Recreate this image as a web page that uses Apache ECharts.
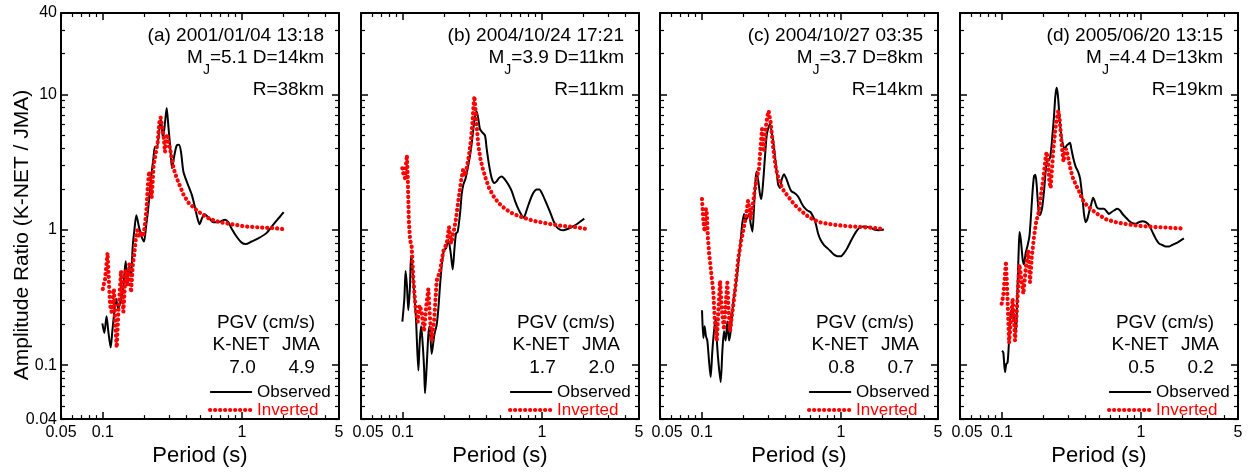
<!DOCTYPE html>
<html>
<head>
<meta charset="utf-8">
<title>Amplitude Ratio (K-NET / JMA)</title>
<script src="https://cdn.jsdelivr.net/npm/echarts@6.0.0/dist/echarts.min.js"></script>
<style>
  html, body { margin: 0; padding: 0; background: #fff; }
  #chart { width: 1249px; height: 472px; }
</style>
</head>
<body>
<div id="chart"></div>
<script>
// panel annotations
const panelTitles = ['(a) 2001/01/04 13:18', '(b) 2004/10/24 17:21', '(c) 2004/10/27 03:35', '(d) 2005/06/20 13:15'];
const magnitudes = ['5.1', '3.9', '3.7', '4.4'];
const depths = ['14', '11', '8', '13'];
const distances = ['38', '11', '14', '19'];
const pgvKnet = ['7.0', '1.7', '0.8', '0.5'];
const pgvJma = ['4.9', '2.0', '0.7', '0.2'];

// axis ranges (log scale), tick labels come out as 0.05 0.1 1 5 and 0.04 0.1 1 10 40
const periodRange = [0.05, 5];
const ratioRange = [0.04, 40];

// [period (s), amplitude ratio]
const obsA = [[0.0992,0.204],[0.1025,0.173],[0.1063,0.23],[0.1095,0.178],[0.1138,0.135],[0.117,0.178],[0.1209,0.248],[0.1243,0.31],[0.1293,0.262],[0.1352,0.31],[0.1405,0.387],[0.146,0.587],[0.150,0.432],[0.155,0.54],[0.1595,0.457],[0.164,0.753],[0.1685,0.99],[0.1742,1.28],[0.182,1.05],[0.190,0.89],[0.1977,0.82],[0.2045,1.05],[0.2125,1.47],[0.221,2.28],[0.231,3.37],[0.237,4.1],[0.2453,4.1],[0.2536,5.26],[0.262,6.56],[0.271,4.7],[0.280,6.2],[0.288,7.95],[0.296,5.87],[0.306,3.98],[0.3145,2.85],[0.327,3.56],[0.340,4.2],[0.353,4.25],[0.365,3.77],[0.3795,2.7],[0.401,2.28],[0.4356,1.83],[0.460,1.47],[0.4775,1.24],[0.497,1.1],[0.514,1.2],[0.538,1.31],[0.574,1.24],[0.624,1.14],[0.677,1.14],[0.757,1.19],[0.799,1.14],[0.845,1.02],[0.918,0.89],[0.997,0.805],[1.065,0.785],[1.175,0.82],[1.312,0.865],[1.51,0.95],[1.69,1.1],[1.88,1.25],[2.0,1.35]];
const invA = [[0.0999,0.366],[0.1036,0.432],[0.107,0.603],[0.1081,0.674],[0.1104,0.432],[0.1128,0.277],[0.1157,0.248],[0.119,0.346],[0.1202,0.366],[0.1223,0.222],[0.1258,0.135],[0.1293,0.248],[0.1352,0.497],[0.1405,0.248],[0.146,0.51],[0.150,0.387],[0.155,0.556],[0.1595,0.346],[0.164,0.54],[0.1685,0.674],[0.1723,0.841],[0.177,0.99],[0.183,0.89],[0.190,0.97],[0.1953,0.89],[0.2011,1.11],[0.2067,1.47],[0.2102,2.04],[0.215,2.7],[0.2198,2.28],[0.2246,1.73],[0.2284,2.28],[0.232,3.02],[0.240,3.65],[0.248,4.44],[0.2549,6.2],[0.2605,6.75],[0.265,6.56],[0.2692,5.55],[0.275,4.7],[0.280,3.77],[0.2848,4.44],[0.2896,5.1],[0.296,4.44],[0.3045,3.98],[0.3128,3.37],[0.323,2.85],[0.340,2.41],[0.3593,2.1],[0.3795,1.83],[0.4122,1.59],[0.460,1.43],[0.514,1.31],[0.59,1.2],[0.697,1.14],[0.845,1.1],[1.053,1.06],[1.388,1.04],[1.732,1.03],[2.04,1.01]];

const obsB = [[0.0992,0.21],[0.1025,0.31],[0.1047,0.497],[0.107,0.387],[0.1095,0.255],[0.1126,0.387],[0.1145,0.64],[0.117,0.54],[0.1209,0.328],[0.1243,0.222],[0.1293,0.0914],[0.132,0.1425],[0.1352,0.194],[0.138,0.159],[0.1421,0.0966],[0.1444,0.062],[0.1483,0.0966],[0.1526,0.168],[0.156,0.194],[0.1612,0.121],[0.1685,0.168],[0.1752,0.199],[0.1801,0.262],[0.1851,0.387],[0.1903,0.54],[0.1977,0.712],[0.2045,0.73],[0.2125,0.841],[0.221,0.674],[0.2284,0.51],[0.2348,0.712],[0.2413,0.94],[0.248,0.966],[0.2578,1.31],[0.265,1.83],[0.2725,2.16],[0.283,2.41],[0.296,3.02],[0.3095,3.98],[0.3216,5.55],[0.3305,6.93],[0.340,7.5],[0.3493,6.56],[0.359,5.55],[0.373,5.26],[0.390,4.97],[0.401,3.98],[0.4168,3.02],[0.4356,2.41],[0.455,2.22],[0.4725,2.28],[0.4905,2.41],[0.514,2.48],[0.543,2.35],[0.574,2.16],[0.607,1.93],[0.641,1.64],[0.677,1.43],[0.716,1.28],[0.739,1.23],[0.776,1.39],[0.82,1.64],[0.869,1.88],[0.918,1.99],[0.96,1.99],[1.01,1.83],[1.085,1.55],[1.147,1.35],[1.21,1.17],[1.277,1.05],[1.349,1.005],[1.425,0.994],[1.51,1.01],[1.64,1.05],[1.78,1.1],[1.91,1.16],[2.02,1.21]];
const invB = [[0.0992,2.85],[0.1014,2.55],[0.1036,2.41],[0.1053,3.02],[0.107,3.56],[0.1087,2.28],[0.1104,1.17],[0.1128,0.841],[0.1157,0.753],[0.119,0.432],[0.1237,0.262],[0.128,0.21],[0.132,0.277],[0.1366,0.248],[0.142,0.178],[0.1475,0.277],[0.1526,0.366],[0.157,0.222],[0.1612,0.15],[0.1677,0.21],[0.1752,0.42],[0.1851,0.497],[0.1953,0.694],[0.2067,0.795],[0.215,1.05],[0.2222,0.795],[0.231,0.94],[0.240,1.17],[0.2508,1.64],[0.262,2.28],[0.271,2.77],[0.280,2.5],[0.2896,2.94],[0.2992,3.56],[0.3095,4.7],[0.318,6.56],[0.323,8.4],[0.327,9.7],[0.332,8.2],[0.340,5.87],[0.3493,4.2],[0.3612,3.37],[0.3753,2.85],[0.394,2.41],[0.4168,2.04],[0.448,1.78],[0.4856,1.59],[0.543,1.43],[0.624,1.31],[0.736,1.23],[0.893,1.16],[1.113,1.11],[1.388,1.07],[1.732,1.05],[2.04,1.02]];

const obsC = [[0.1003,0.255],[0.1025,0.159],[0.1047,0.194],[0.107,0.164],[0.1095,0.152],[0.1126,0.108],[0.1157,0.0818],[0.119,0.1275],[0.1223,0.178],[0.1258,0.222],[0.1287,0.1425],[0.132,0.102],[0.1366,0.0752],[0.1405,0.1275],[0.1444,0.178],[0.1483,0.152],[0.1526,0.21],[0.157,0.152],[0.1612,0.178],[0.1658,0.248],[0.1704,0.328],[0.1752,0.387],[0.1801,0.483],[0.1851,0.638],[0.1903,0.841],[0.1953,1.11],[0.2011,1.31],[0.2067,1.17],[0.2125,1.24],[0.2185,1.31],[0.2246,1.11],[0.231,0.97],[0.2373,1.47],[0.244,2.41],[0.248,2.7],[0.2549,2.28],[0.262,1.83],[0.268,1.69],[0.2763,2.28],[0.284,3.37],[0.2927,4.97],[0.2992,5.55],[0.3095,6.05],[0.318,5.26],[0.327,4.44],[0.3352,3.56],[0.345,2.7],[0.354,2.16],[0.365,2.04],[0.3753,2.35],[0.390,2.58],[0.4077,2.35],[0.4238,2.1],[0.440,1.93],[0.460,1.88],[0.4775,1.83],[0.4985,1.73],[0.5185,1.59],[0.543,1.47],[0.574,1.39],[0.607,1.35],[0.6345,1.24],[0.66,1.11],[0.686,0.94],[0.716,0.841],[0.757,0.771],[0.7994,0.733],[0.845,0.694],[0.893,0.656],[0.944,0.638],[0.997,0.638],[1.054,0.674],[1.113,0.733],[1.175,0.82],[1.243,0.913],[1.312,0.994],[1.388,1.05],[1.465,1.06],[1.551,1.05],[1.64,1.04],[1.732,1.005],[1.88,0.994],[2.04,1.005]];
const invC = [[0.1003,1.69],[0.1025,1.17],[0.1047,0.97],[0.107,1.43],[0.1087,1.31],[0.1104,0.89],[0.1128,0.674],[0.1157,0.527],[0.119,0.527],[0.121,0.346],[0.1237,0.222],[0.128,0.151],[0.1306,0.222],[0.1352,0.42],[0.1398,0.248],[0.1444,0.183],[0.1483,0.277],[0.1526,0.408],[0.156,0.248],[0.1595,0.178],[0.1658,0.248],[0.1733,0.356],[0.183,0.62],[0.1933,0.865],[0.2011,1.05],[0.2087,1.31],[0.215,1.64],[0.2198,1.43],[0.2246,1.2],[0.231,1.47],[0.240,1.93],[0.248,2.41],[0.2578,2.85],[0.265,4.2],[0.271,5.55],[0.2778,3.77],[0.284,4.7],[0.2896,5.87],[0.296,6.93],[0.3025,7.55],[0.308,7.35],[0.3128,6.2],[0.3216,4.7],[0.3305,3.56],[0.341,2.85],[0.3532,2.48],[0.369,2.16],[0.390,1.93],[0.4238,1.73],[0.460,1.55],[0.514,1.39],[0.59,1.24],[0.697,1.14],[0.845,1.1],[1.054,1.07],[1.388,1.05],[1.732,1.035],[2.04,1.01]];

const obsD = [[0.1003,0.128],[0.1025,0.124],[0.1053,0.089],[0.1076,0.102],[0.11,0.105],[0.1126,0.151],[0.115,0.222],[0.1183,0.262],[0.1209,0.248],[0.1237,0.21],[0.1265,0.173],[0.1293,0.346],[0.132,0.674],[0.1341,0.966],[0.137,0.841],[0.1413,0.603],[0.1444,0.556],[0.1483,0.674],[0.1526,0.753],[0.1578,0.89],[0.1612,1.17],[0.1658,1.83],[0.1704,2.5],[0.1742,2.55],[0.178,2.16],[0.182,1.55],[0.1859,1.28],[0.190,1.31],[0.1953,1.47],[0.2011,1.93],[0.2067,2.7],[0.2125,3.28],[0.2185,3.28],[0.2246,3.65],[0.231,4.97],[0.2373,6.93],[0.2426,9.7],[0.248,11.2],[0.2536,9.7],[0.2605,6.56],[0.268,4.97],[0.2763,4.2],[0.284,3.98],[0.2927,4.2],[0.3025,4.32],[0.3095,4.4],[0.316,3.98],[0.327,3.37],[0.340,2.92],[0.353,2.7],[0.365,2.41],[0.373,2.04],[0.382,1.64],[0.390,1.31],[0.401,1.14],[0.4122,1.2],[0.424,1.35],[0.440,1.55],[0.4535,1.73],[0.465,1.64],[0.4825,1.47],[0.5015,1.43],[0.521,1.43],[0.543,1.43],[0.574,1.35],[0.59,1.31],[0.614,1.35],[0.641,1.39],[0.677,1.43],[0.708,1.39],[0.739,1.31],[0.776,1.24],[0.82,1.17],[0.869,1.12],[0.918,1.11],[0.97,1.14],[1.025,1.16],[1.085,1.14],[1.147,1.08],[1.21,0.966],[1.277,0.865],[1.349,0.795],[1.425,0.773],[1.51,0.753],[1.59,0.753],[1.68,0.773],[1.78,0.795],[1.88,0.82],[2.04,0.865]];
const invD = [[0.0997,0.285],[0.1025,0.328],[0.1047,0.432],[0.107,0.585],[0.1095,0.346],[0.1128,0.146],[0.1163,0.222],[0.1196,0.31],[0.1223,0.222],[0.1244,0.152],[0.128,0.248],[0.1338,0.556],[0.138,0.432],[0.1428,0.337],[0.1491,0.54],[0.155,0.694],[0.1595,0.41],[0.164,0.62],[0.1704,0.89],[0.1772,1.17],[0.183,1.31],[0.190,1.73],[0.199,2.41],[0.2067,3.46],[0.2102,3.77],[0.215,3.19],[0.2198,2.28],[0.2246,2.04],[0.2296,2.85],[0.2348,3.98],[0.2413,5.26],[0.248,6.56],[0.2549,7.55],[0.2605,6.56],[0.265,5.26],[0.271,3.98],[0.2778,3.19],[0.284,3.77],[0.2896,3.98],[0.296,3.65],[0.3045,3.19],[0.3128,2.77],[0.325,2.41],[0.340,2.16],[0.3593,1.93],[0.3795,1.68],[0.401,1.55],[0.4356,1.43],[0.487,1.31],[0.558,1.2],[0.659,1.14],[0.7994,1.1],[0.997,1.07],[1.243,1.05],[1.551,1.04],[2.04,1.02]];

const observed = [obsA, obsB, obsC, obsD];
const inverted = [invA, invB, invC, invD];

const FONT = '"Liberation Sans", Arial, Helvetica, sans-serif';
const gridLeft = [61, 361, 660, 960];
const gridTop = 13;
const gridW = 278;
const gridH = 415;

function tickStyle(showLabel, isX, i) {
  return {
    z: 10,
    axisLine: { show: true, onZero: false, lineStyle: { color: '#000', width: 2 } },
    axisTick: { show: true, inside: true, length: 7, lineStyle: { color: '#000', width: 1.5, opacity: 1 } },
    minorTick: { show: true, splitNumber: 9, length: 4, lineStyle: { color: '#000', width: 1.2, opacity: 1 } },
    splitLine: { show: false },
    axisLabel: {
      show: showLabel,
      interval: 0,
      margin: isX ? 5 : 4,
      color: '#000',
      fontSize: 16,
      fontFamily: FONT,
      formatter: function (v) {
        // shift the first label of panels b-d off the neighbour's "5"
        if (isX && i > 0 && Math.abs(v - 0.05) < 1e-9) return '{s|0.05}';
        return String(v);
      },
      rich: { s: { fontSize: 16, fontFamily: FONT, color: '#000', padding: [0, 0, 0, 14] } }
    }
  };
}

const grids = [], xAxes = [], yAxes = [], series = [], legends = [], graphics = [];

gridLeft.forEach(function (L, i) {
  grids.push({ left: L, top: gridTop, width: gridW, height: gridH });

  ['bottom', 'top'].forEach(function (pos) {
    xAxes.push(Object.assign({
      type: 'log', logBase: 10, gridIndex: i, position: pos,
      min: periodRange[0], max: periodRange[1],
      name: pos === 'bottom' ? 'Period (s)' : '',
      nameLocation: 'middle', nameGap: 13,
      nameTextStyle: { color: '#000', fontSize: 22, fontFamily: FONT }
    }, tickStyle(pos === 'bottom', true, i)));
  });
  ['left', 'right'].forEach(function (pos) {
    yAxes.push(Object.assign({
      type: 'log', logBase: 10, gridIndex: i, position: pos,
      min: ratioRange[0], max: ratioRange[1]
    }, tickStyle(pos === 'left' && i === 0, false, i)));
  });

  series.push({
    name: 'Observed', type: 'line', xAxisIndex: 2 * i, yAxisIndex: 2 * i,
    data: observed[i], symbol: 'none', smooth: 0.25, z: 2,
    lineStyle: { color: '#000', width: 2 }, itemStyle: { color: '#000' }
  });
  series.push({
    name: 'Inverted', type: 'line', xAxisIndex: 2 * i, yAxisIndex: 2 * i,
    data: inverted[i], symbol: 'none', z: 3,
    lineStyle: { color: '#ff0000', width: 4.2, type: [0.1, 4.9], cap: 'round' },
    itemStyle: { color: '#ff0000' }
  });

  legends.push({
    left: L + 147, top: 383.5, orient: 'vertical', padding: 0,
    itemWidth: 42, itemHeight: 14, itemGap: 1, selectedMode: false,
    itemStyle: { opacity: 0 },
    lineStyle: { width: 'inherit' },
    textStyle: { fontSize: 17, fontFamily: FONT, color: '#000' },
    data: [
      { name: 'Observed', textStyle: { color: '#000' } },
      { name: 'Inverted', textStyle: { color: '#ff0000' } }
    ]
  });

  const R = L + gridW;
  const txt = function (x, y, text, align) {
    return {
      type: 'text', x: x, y: y, silent: true,
      style: { text: text, fill: '#000', font: '19px ' + FONT, align: align, verticalAlign: 'middle' }
    };
  };
  graphics.push(txt(R - 15, 35.5, panelTitles[i], 'right'));
  // M with subscript J
  graphics.push({
    type: 'text', x: R - 15, y: 48.7, silent: true,
    style: {
      text: '{m|M}{j|J}{m|=' + magnitudes[i] + ' D=' + depths[i] + 'km}',
      align: 'right', verticalAlign: 'top',
      rich: {
        m: { fontSize: 19, fontFamily: FONT, color: '#000', lineHeight: 19, verticalAlign: 'top' },
        j: { fontSize: 14, fontFamily: FONT, color: '#000', lineHeight: 28, verticalAlign: 'bottom' }
      }
    }
  });
  graphics.push(txt(R - 15, 89.9, 'R=' + distances[i] + 'km', 'right'));
  graphics.push(txt(L + 205, 323.2, 'PGV (cm/s)', 'center'));
  graphics.push(txt(L + 180, 344.9, 'K-NET', 'center'));
  graphics.push(txt(L + 240, 344.9, 'JMA', 'center'));
  graphics.push(txt(L + 181.5, 368.2, pgvKnet[i], 'center'));
  graphics.push(txt(L + 240.7, 368.2, pgvJma[i], 'center'));
});

graphics.push({
  type: 'text', x: 22, y: 235, rotation: Math.PI / 2, silent: true,
  style: { text: 'Amplitude Ratio (K-NET / JMA)', fill: '#000', font: '21px ' + FONT,
           align: 'center', verticalAlign: 'middle' }
});

const chart = echarts.init(document.getElementById('chart'));
chart.setOption({
  animation: false,
  grid: grids,
  xAxis: xAxes,
  yAxis: yAxes,
  legend: legends,
  series: series,
  graphic: graphics
});
</script>
</body>
</html>
